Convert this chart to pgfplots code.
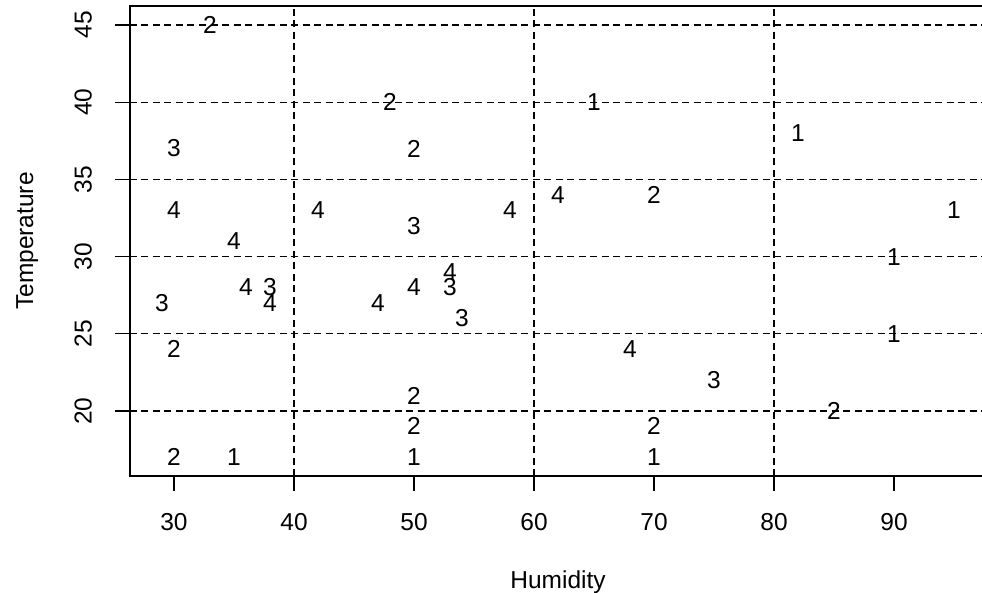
\documentclass[border=0pt]{standalone}
\usepackage{fontspec}
\setmainfont{Liberation Sans}
\usepackage{pgfplots}
\pgfplotsset{compat=1.18}
\begin{document}
\fontsize{24.5}{29}\selectfont
\begin{tikzpicture}
\begin{axis}[
  name=ax, at={(0,0)}, anchor=south west,
  scale only axis, width=856pt, height=470pt,
  xmin=26.333, xmax=97.667, ymin=15.79, ymax=46.23,
  axis line style={black, line width=1.5pt},
  tick align=outside, major tick length=15pt, tick pos=left,
  tick style={black, line width=1.3pt},
  xtick={30,40,...,90}, ytick={20,25,...,45},
  ymajorgrids=true,
  grid style={black, line width=1.1pt, dash pattern=on 7pt off 4.5pt},
  extra x ticks={40,60,80}, extra x tick labels={},
  extra x tick style={xmajorgrids=true},
  /pgf/number format/assume math mode=true,
  ticklabel style={font=\fontsize{24.5}{29}\selectfont},
  xticklabel style={anchor=north, inner sep=0pt, yshift=-22pt},
  yticklabel style={xshift=-23pt, rotate=90, anchor=south, inner sep=0pt},
  xlabel={Humidity}, ylabel={Temperature},
  label style={font=\fontsize{24.5}{29}\selectfont},
  xlabel style={at={(axis description cs:0.5,0)}, anchor=base, yshift=-112pt, inner sep=0pt},
  ylabel style={at={(axis description cs:-0.1133,0.5)}, anchor=base, inner sep=0pt},
]
\addplot[only marks, mark=none, nodes near coords, point meta=explicit symbolic,
  nodes near coords style={anchor=center, inner sep=0pt, font=\fontsize{24.5}{29}\selectfont}]
  table[meta=l] {
x y l
33 45 2
48 40 2
65 40 1
30 37 3
50 37 2
82 38 1
30 33 4
42 33 4
50 32 3
58 33 4
62 34 4
70 34 2
95 33 1
35 31 4
90 30 1
29 27 3
36 28 4
38 28 3
38 27 4
47 27 4
50 28 4
53 29 4
53 28 3
54 26 3
90 25 1
30 24 2
68 24 4
75 22 3
85 20 2
50 21 2
50 19 2
70 19 2
30 17 2
35 17 1
50 17 1
70 17 1
};
\end{axis}
\pgfresetboundingbox
\path (-130pt,-116pt) rectangle (852pt,476pt);
\end{tikzpicture}
\end{document}
